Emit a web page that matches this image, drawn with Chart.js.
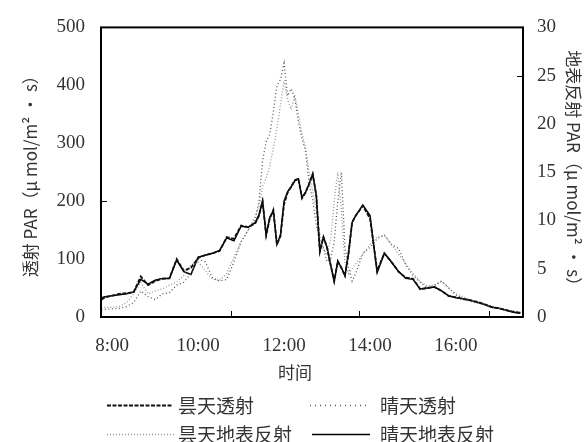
<!DOCTYPE html>
<html>
<head>
<meta charset="utf-8">
<script src="https://cdn.jsdelivr.net/npm/chart.js@4/dist/chart.umd.min.js"></script>
<style>
  html, body { margin: 0; padding: 0; background: #fff; }
  #wrap { width: 584px; height: 442px; position: relative; }
</style>
</head>
<body>
<div id="wrap"><canvas id="c" width="584" height="442"></canvas></div>
<script>
// sample times (hh:mm)
const times = [
  '7:45', '7:50', '8:00', '8:10', '8:20', '8:30', '8:40', '8:50',
  '9:00', '9:10', '9:20', '9:30', '9:40', '9:50',
  '10:00', '10:10', '10:20', '10:30', '10:40', '10:50',
  '11:00', '11:10', '11:20',
  '11:25', '11:30', '11:35', '11:40', '11:45', '11:50', '11:55',
  '12:00', '12:05', '12:10', '12:15', '12:20', '12:25', '12:30', '12:35', '12:40', '12:45', '12:50', '12:55',
  '13:00', '13:05', '13:10', '13:15', '13:20', '13:25', '13:30', '13:35', '13:40',
  '13:50', '14:00', '14:10', '14:20', '14:30', '14:40', '14:50',
  '15:00', '15:10', '15:20', '15:30', '15:40', '15:50',
  '16:00', '16:10', '16:20', '16:30', '16:40', '16:50',
  '17:00', '17:10', '17:20', '17:30'
];

// left axis: transmitted PAR
const cloudyTrans = [
  30, 34, 37, 40, 41, 43, 70, 55,
  62, 66, 67, 100, 80, 85,
  102, 107, 110, 114, 138, 135,
  158, 155, 162,
  175, 200, 141, 170, 185, 125, 140,
  195, 215, 225, 236, 239, 205, 215, 230, 247, 210, 113, 138,
  120, 90, 62, 96, 85, 71, 110, 163, 175,
  192, 170, 80, 110, 95, 78, 68,
  66, 48, 50, 52, 45, 36,
  34, 31, 29, 26, 22, 17,
  15, 12, 9, 7
];
const clearTrans = [
  12, 13, 14, 15, 18, 25, 45, 35,
  30, 40, 42, 55, 60, 75,
  100, 95, 68, 62, 65, 95,
  130, 150, 170,
  200, 270, 303, 315, 354, 399, 410,
  438, 382, 394, 377, 337, 309, 286, 230, 202, 158, 130, 120,
  95, 100, 130, 200, 250, 120, 85, 62, 75,
  110, 120, 135, 141, 125, 118, 90,
  72, 60, 50, 55, 62, 50,
  38, 32, 28, 25, 22, 18,
  15, 12, 10, 8
];

// right axis: ground reflected PAR
const cloudyRefl = [
  0.9, 1.0, 1.0, 1.1, 1.5, 2.4, 3.6, 2.4,
  2.7, 2.9, 3.3, 3.6, 4.3, 5.4,
  5.7, 4.8, 3.9, 3.8, 4.5, 6.2,
  7.8, 9.0, 10.5,
  11.5, 13.5, 14.4, 15.6, 17.5, 19.5, 22.0,
  24.5, 22.5, 21.5, 23.0, 21.0, 19.0, 17.5, 15.0, 13.0, 11.0, 8.5, 7.0,
  6.5, 8.0, 12.0, 15.0, 11.0, 5.5, 4.5, 5.0, 5.5,
  6.5, 7.5, 8.3, 8.5, 7.5, 6.5, 5.5,
  4.5, 3.7, 3.2, 3.3, 3.7, 3.0,
  2.4, 2.1, 1.8, 1.5, 1.3, 1.1,
  0.9, 0.8, 0.6, 0.5
];
const clearRefl = [
  2.0, 2.1, 2.2, 2.3, 2.4, 2.6, 3.9, 3.4,
  3.8, 4.0, 4.0, 5.9, 4.7, 4.4,
  6.2, 6.4, 6.6, 6.9, 8.2, 7.9,
  9.4, 9.3, 9.8,
  10.6, 12.0, 8.5, 10.3, 11.0, 7.5, 8.5,
  12.0, 13.0, 13.5, 14.1, 14.3, 12.4, 12.9, 13.8, 14.8, 12.6, 6.8, 8.3,
  7.2, 5.4, 3.7, 5.8, 5.1, 4.3, 6.6, 9.8, 10.5,
  11.6, 10.5, 4.6, 6.6, 5.7, 4.7, 4.0,
  3.9, 2.9, 3.0, 3.1, 2.7, 2.2,
  2.0, 1.9, 1.7, 1.5, 1.3, 1.0,
  0.9, 0.7, 0.5, 0.4
];

const seriesNames = ['昙天透射', '晴天透射', '昙天地表反射', '晴天地表反射'];
const xTickHours = [8, 10, 12, 14, 16];
const xTitle = '时间';

const toHours = t => { const [h, m] = t.split(':').map(Number); return h + m / 60; };
const pts = vals => vals.map((v, i) => ({ x: toHours(times[i]), y: v }));

const serif = 'Liberation Serif';
const cjk = '"Noto Sans CJK SC", "Noto Sans", sans-serif';

// frame, inner tick marks, x title and the two-row legend
const decor = {
  id: 'decor',
  afterDatasetsDraw(chart) {
    const { ctx, chartArea: a, scales } = chart;
    ctx.save();
    ctx.strokeStyle = '#000';
    ctx.lineWidth = 2;
    ctx.strokeRect(a.left, a.top, a.right - a.left, a.bottom - a.top);
    ctx.lineWidth = 1;
    ctx.beginPath();
    [10.77, 13.74, 16.77].forEach(h => {
      const x = Math.round(scales.x.getPixelForValue(h)) + 0.5;
      ctx.moveTo(x, a.bottom); ctx.lineTo(x, a.bottom - 6);
    });
    const yl = Math.round(scales.y.getPixelForValue(200)) + 0.5;
    ctx.moveTo(a.left, yl); ctx.lineTo(a.left + 6, yl);
    const yr = Math.round(scales.y2.getPixelForValue(25)) + 0.5;
    ctx.moveTo(a.right, yr); ctx.lineTo(a.right - 6, yr);
    ctx.stroke();
    ctx.restore();
  },
  afterDraw(chart) {
    const { ctx } = chart;
    ctx.save();
    ctx.fillStyle = '#333';
    ctx.font = '17px ' + cjk;
    ctx.textAlign = 'center';
    ctx.textBaseline = 'middle';
    ctx.fillText(xTitle, 295, 373);

    const slots = [
      { x: 107, y: 405, w: 65, tx: 178 },
      { x: 310, y: 405, w: 57, tx: 380 },
      { x: 107, y: 434, w: 68, tx: 178 },
      { x: 312, y: 434, w: 58, tx: 380 }
    ];
    ctx.textAlign = 'left';
    ctx.font = '19px ' + cjk;
    chart.data.datasets.forEach((ds, i) => {
      const s = slots[i];
      ctx.strokeStyle = ds.borderColor;
      ctx.lineWidth = ds.borderWidth;
      ctx.setLineDash(ds.legendDash || ds.borderDash || []);
      ctx.beginPath();
      ctx.moveTo(s.x, s.y + 0.5); ctx.lineTo(s.x + s.w, s.y + 0.5);
      ctx.stroke();
      ctx.setLineDash([]);
      ctx.fillText(ds.label, s.tx, s.y + 1);
    });
    ctx.restore();
  }
};

new Chart(document.getElementById('c'), {
  type: 'line',
  data: {
    datasets: [
      { label: seriesNames[0], data: pts(cloudyTrans), yAxisID: 'y', borderColor: '#111', borderWidth: 1.8, borderDash: [4, 1.5] },
      { label: seriesNames[1], data: pts(clearTrans), yAxisID: 'y', borderColor: '#555', borderWidth: 1.3, borderDash: [1, 2.5], legendDash: [1, 4] },
      { label: seriesNames[2], data: pts(cloudyRefl), yAxisID: 'y2', borderColor: '#999', borderWidth: 1.3, borderDash: [1, 2] },
      { label: seriesNames[3], data: pts(clearRefl), yAxisID: 'y2', borderColor: '#000', borderWidth: 1.5 }
    ]
  },
  options: {
    responsive: false,
    animation: false,
    layout: { padding: { top: 20, left: 0, right: 0, bottom: 0 } },
    elements: { point: { radius: 0 }, line: { tension: 0 } },
    plugins: { legend: { display: false }, tooltip: { enabled: false } },
    scales: {
      x: {
        type: 'linear',
        min: 7.74,
        max: 17.56,
        afterBuildTicks: s => { s.ticks = xTickHours.map(v => ({ value: v })); },
        afterFit: s => { s.height = 125; },
        grid: { display: false, drawTicks: false },
        border: { display: false },
        ticks: { padding: 18, color: '#333', font: { family: serif, size: 19 }, callback: v => v + ':00' }
      },
      y: {
        position: 'left',
        min: 0,
        max: 500,
        afterFit: s => { s.width = 101; },
        grid: { display: false, drawTicks: false },
        border: { display: false },
        ticks: { stepSize: 100, padding: 16, color: '#333', font: { family: serif, size: 19 } },
        title: { display: true, text: '透射 PAR（μ mol/m² • s）', color: '#333', font: { family: cjk, size: 17 }, padding: { top: 20, bottom: 0 } }
      },
      y2: {
        position: 'right',
        min: 0,
        max: 30,
        afterFit: s => { s.width = 61; },
        grid: { display: false, drawTicks: false },
        border: { display: false },
        ticks: { stepSize: 5, padding: 14, color: '#333', font: { family: serif, size: 19 } },
        title: { display: true, text: '地表反射 PAR（μ mol/m² • s）', color: '#333', font: { family: cjk, size: 17 }, padding: { top: 0, bottom: 0 } }
      }
    }
  },
  plugins: [decor]
});
</script>
</body>
</html>
